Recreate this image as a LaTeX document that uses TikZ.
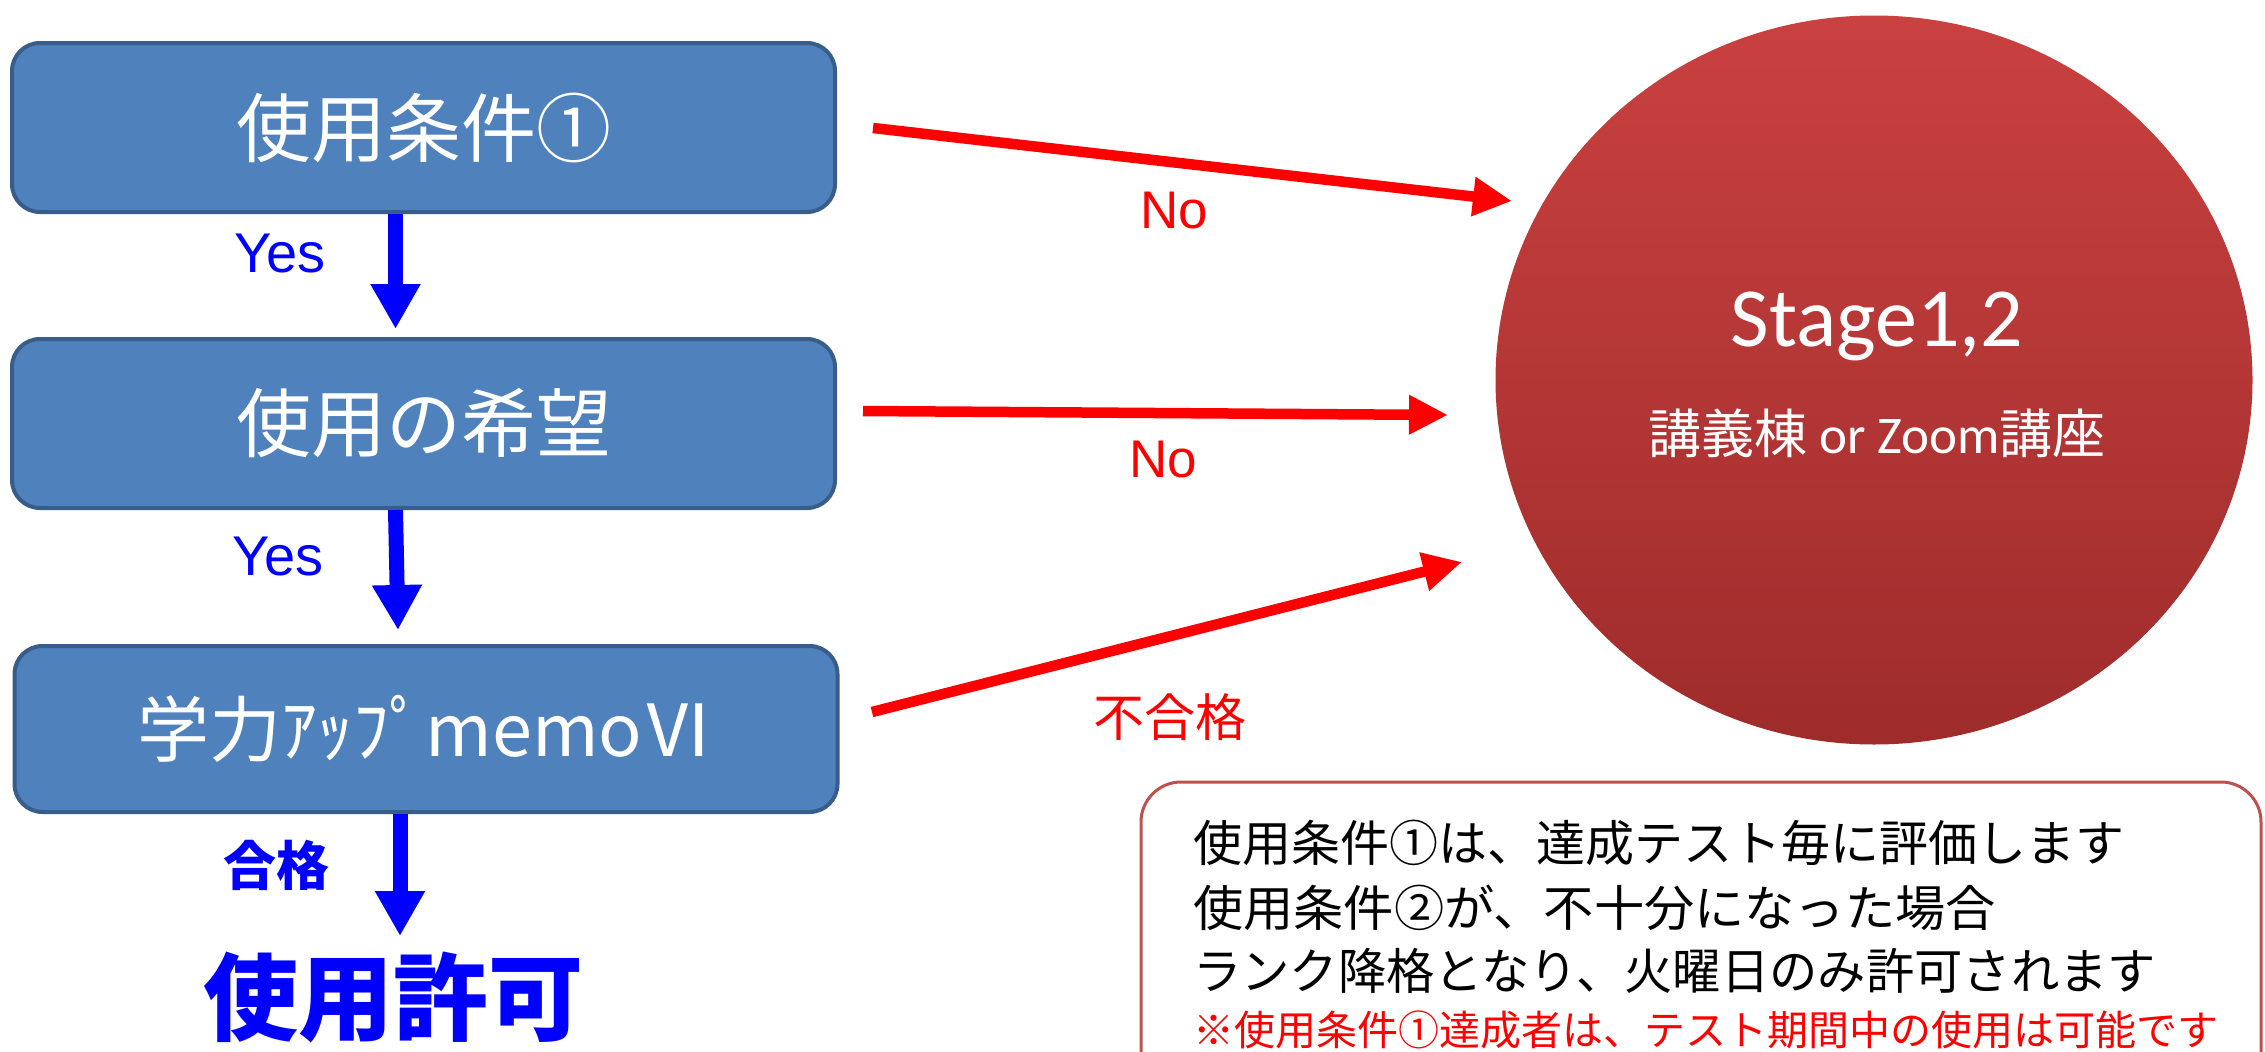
\documentclass[tikz,border=0pt]{standalone}
\usepackage{fontspec}
\setmainfont{Liberation Sans}
\newfontfamily\cjk{Noto Sans CJK JP}
\newfontfamily\calfont{Carlito}
\usetikzlibrary{arrows.meta,shapes.geometric}
\definecolor{boxblue}{HTML}{4F81BD}
\definecolor{boxedge}{HTML}{385D8A}
\definecolor{notered}{HTML}{C0504D}
\definecolor{ctop}{HTML}{C94140}
\definecolor{cbot}{HTML}{9E2C2B}
\begin{document}
\begin{tikzpicture}[x=1pt,y=-1pt,
  flowbox/.style={draw=boxedge, line width=4pt, fill=boxblue, rounded corners=28pt,
    minimum width=823pt, minimum height=169pt, inner sep=0pt, text=white,
    font=\cjk\fontsize{75}{80}\selectfont},
  yesarrow/.style={draw=blue, line width=15pt, -{Triangle[width=47pt,length=45pt]}},
  noarrow/.style={draw=red, line width=10.5pt, -{Triangle[width=37pt,length=39pt]}},
  bluelbl/.style={text=blue, inner sep=0pt, font=\fontsize{56}{60}\selectfont},
  redlbl/.style={text=red, inner sep=0pt, font=\fontsize{53}{60}\selectfont},
  noteline/.style={anchor=west, inner sep=0pt, font=\cjk\fontsize{49}{58}\selectfont},
]
\useasboundingbox (0,0) rectangle (2265,1052);
\clip (0,0) rectangle (2265,1052);

% flow boxes
\node[flowbox] (b1) at (423.5,127.5) {使用条件①};
\node[flowbox] (b2) at (423.5,423.5) {使用の希望};
\node[flowbox, minimum height=166pt, font=\cjk\fontsize{72}{80}\selectfont] (b3) at (426,729) {学力ｱｯﾌﾟmemoⅥ};

% result text
\node[text=blue, inner sep=0pt, font=\cjk\bfseries\fontsize{95}{100}\selectfont] (perm) at (393,997) {使用許可};

% blue arrows
\coordinate (g3) at (400,936);
\draw[yesarrow] ([xshift=-28pt]b1.south) -- ([xshift=-28pt,yshift=8pt]b2.north);
\draw[yesarrow] ([xshift=-28pt]b2.south) -- ([xshift=-28pt,yshift=14pt]b3.north);
\draw[yesarrow] ([xshift=-26pt]b3.south) -- (g3);

\node[bluelbl] (yes1) at (280,254) {Yes};
\node[bluelbl] (yes2) at (278,557) {Yes};
\node[bluelbl, font=\cjk\bfseries\fontsize{53}{56}\selectfont] (pass) at (276,865) {合格};

% stage circle
\node[ellipse, minimum width=757pt, minimum height=729pt, inner sep=0pt,
      top color=ctop, bottom color=cbot] (stage) at (1874,380) {};
\node[anchor=base, text=white, inner sep=0pt, font=\calfont\fontsize{84}{90}\selectfont] (stg) at (1877,346) {Stage1,2};
\node[anchor=base, text=white, inner sep=0pt, font=\calfont\fontsize{53}{60}\selectfont] (place) at (1877,453) {{\cjk 講義棟} or Zoom{\cjk 講座}};

% red arrows
\coordinate (ra1) at (873,128);
\coordinate (ra2) at (1512,201);
\coordinate (rb1) at (863,411);
\coordinate (rb2) at (1448,415);
\coordinate (rc1) at (872,712);
\coordinate (rc2) at (1462,562);
\draw[noarrow] (ra1) -- (ra2);
\draw[noarrow] (rb1) -- (rb2);
\draw[noarrow] (rc1) -- (rc2);
\node[redlbl] (no1) at (1174,211) {No};
\node[redlbl] (no2) at (1163,460) {No};
\node[redlbl, font=\cjk\fontsize{51}{56}\selectfont] (fail) at (1170,717) {不合格};

% note box
\draw[notered, line width=3pt, fill=white, rounded corners=40pt] (1141,782) rectangle (2261,1130);
\node[noteline] (n1) at (1193,843) {使用条件①は、達成テスト毎に評価します};
\node[noteline] (n2) at (1193,908) {\scalebox{1.025}[1]{使用条件②が、不十分になった場合}};
\node[noteline] (n3) at (1193,971) {\scalebox{0.986}[1]{ランク降格となり、火曜日のみ許可されます}};
\node[noteline, text=red, font=\cjk\fontsize{41}{48}\selectfont] (n4) at (1193,1030) {※使用条件①達成者は、テスト期間中の使用は可能です};
\end{tikzpicture}
\end{document}
